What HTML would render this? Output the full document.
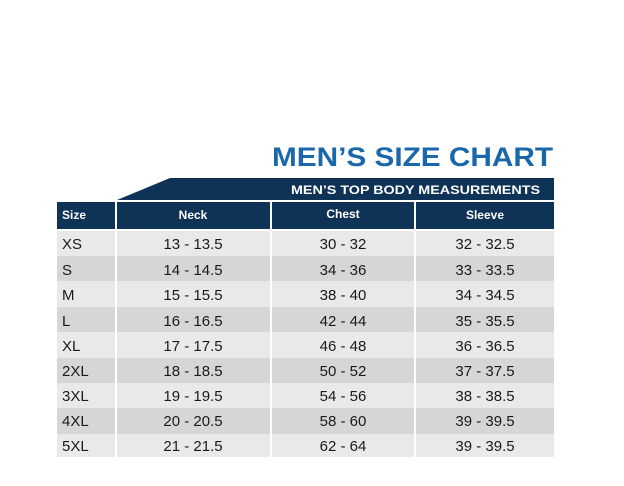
<!DOCTYPE html>
<html><head><meta charset="utf-8"><style>
html,body{margin:0;padding:0;background:#fff;}
svg{display:block;font-family:"Liberation Sans",Arial,sans-serif;}
</style></head><body>
<svg width="624" height="486" viewBox="0 0 624 486" xmlns="http://www.w3.org/2000/svg">
<rect width="624" height="486" fill="#fff"/>
<text x="272" y="166" font-size="27" font-weight="bold" fill="#1a67ab" textLength="281" lengthAdjust="spacingAndGlyphs">MEN’S SIZE CHART</text>
<polygon points="170,178 554,178 554,200 117,200" fill="#0f3257"/>
<text x="540" y="194" font-size="12" font-weight="bold" fill="#fff" text-anchor="end" textLength="249" lengthAdjust="spacingAndGlyphs">MEN’S TOP BODY MEASUREMENTS</text>
<g fill="#0f3257">
<rect x="57" y="202" width="58" height="27"/>
<rect x="117" y="202" width="153" height="27"/>
<rect x="272" y="202" width="142" height="27"/>
<rect x="416" y="202" width="138" height="27"/>
</g>
<g font-size="12" font-weight="bold" fill="#fff">
<text x="62" y="219">Size</text>
<text x="193" y="219" text-anchor="middle">Neck</text>
<text x="343" y="218" text-anchor="middle">Chest</text>
<text x="485" y="219" text-anchor="middle">Sleeve</text>
</g>
<g font-size="15" fill="#1a1a1a">
<rect x="57" y="231" width="497" height="25" fill="#e9e9eb"/>
<rect x="57" y="256" width="497" height="25" fill="#d6d6d8"/>
<rect x="57" y="281" width="497" height="26" fill="#e9e9eb"/>
<rect x="57" y="307" width="497" height="25" fill="#d6d6d8"/>
<rect x="57" y="332" width="497" height="26" fill="#e9e9eb"/>
<rect x="57" y="358" width="497" height="25" fill="#d6d6d8"/>
<rect x="57" y="383" width="497" height="25" fill="#e9e9eb"/>
<rect x="57" y="408" width="497" height="26" fill="#d6d6d8"/>
<rect x="57" y="434" width="497" height="23" fill="#e9e9eb"/>
<rect x="115" y="229" width="2" height="228" fill="#fff"/>
<rect x="270" y="229" width="2" height="228" fill="#fff"/>
<rect x="414" y="229" width="2" height="228" fill="#fff"/>
<text x="62" y="249">XS</text><text x="193" y="249" text-anchor="middle">13 - 13.5</text><text x="343" y="249" text-anchor="middle">30 - 32</text><text x="485" y="249" text-anchor="middle">32 - 32.5</text>
<text x="62" y="275">S</text><text x="193" y="275" text-anchor="middle">14 - 14.5</text><text x="343" y="275" text-anchor="middle">34 - 36</text><text x="485" y="275" text-anchor="middle">33 - 33.5</text>
<text x="62" y="300">M</text><text x="193" y="300" text-anchor="middle">15 - 15.5</text><text x="343" y="300" text-anchor="middle">38 - 40</text><text x="485" y="300" text-anchor="middle">34 - 34.5</text>
<text x="62" y="326">L</text><text x="193" y="326" text-anchor="middle">16 - 16.5</text><text x="343" y="326" text-anchor="middle">42 - 44</text><text x="485" y="326" text-anchor="middle">35 - 35.5</text>
<text x="62" y="351">XL</text><text x="193" y="351" text-anchor="middle">17 - 17.5</text><text x="343" y="351" text-anchor="middle">46 - 48</text><text x="485" y="351" text-anchor="middle">36 - 36.5</text>
<text x="62" y="376">2XL</text><text x="193" y="376" text-anchor="middle">18 - 18.5</text><text x="343" y="376" text-anchor="middle">50 - 52</text><text x="485" y="376" text-anchor="middle">37 - 37.5</text>
<text x="62" y="401">3XL</text><text x="193" y="401" text-anchor="middle">19 - 19.5</text><text x="343" y="401" text-anchor="middle">54 - 56</text><text x="485" y="401" text-anchor="middle">38 - 38.5</text>
<text x="62" y="426">4XL</text><text x="193" y="426" text-anchor="middle">20 - 20.5</text><text x="343" y="426" text-anchor="middle">58 - 60</text><text x="485" y="426" text-anchor="middle">39 - 39.5</text>
<text x="62" y="451">5XL</text><text x="193" y="451" text-anchor="middle">21 - 21.5</text><text x="343" y="451" text-anchor="middle">62 - 64</text><text x="485" y="451" text-anchor="middle">39 - 39.5</text>
</g>
</svg>
</body></html>
